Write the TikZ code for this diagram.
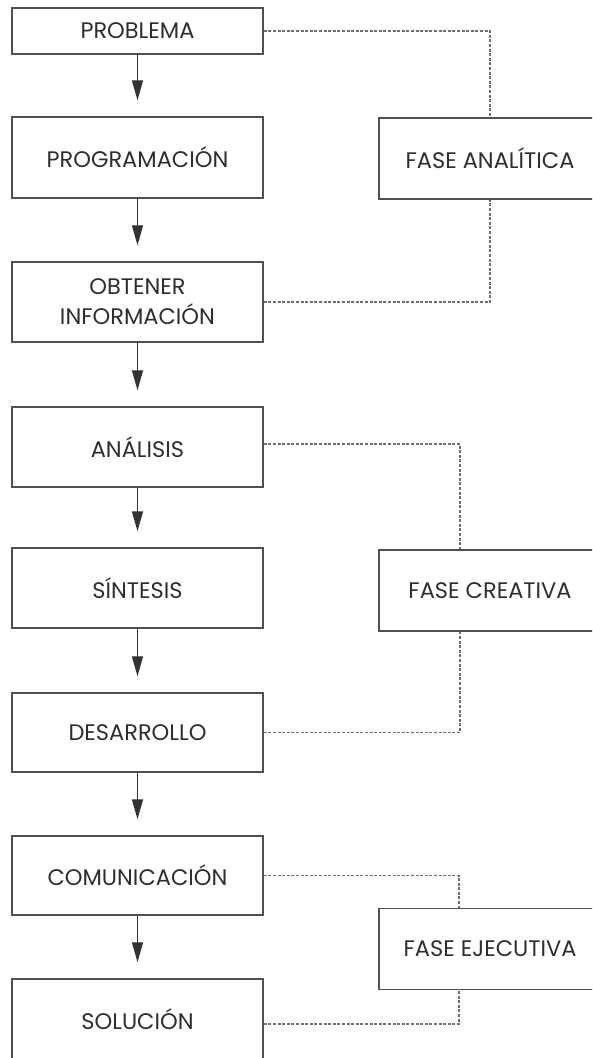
\documentclass[tikz,border=0pt]{standalone}
\usepackage{fontspec}
\setmainfont{Poppins}
\usetikzlibrary{arrows.meta}
\definecolor{boxline}{HTML}{505050}
\definecolor{txt}{HTML}{2E2E2E}
\definecolor{dashc}{HTML}{707070}
\begin{document}
\begin{tikzpicture}[x=1pt,y=-1pt,
  stepbox/.style={draw=boxline, line width=1.4pt, minimum width=251pt, inner sep=0pt,
    text=txt, font=\fontsize{22.5}{30}\selectfont, align=center},
  fasebox/.style={draw=boxline, line width=1.4pt, minimum width=222pt, minimum height=81pt,
    inner sep=0pt, text=txt, font=\fontsize{22.5}{30}\selectfont},
  flow/.style={draw=black!80, line width=1.3pt, -{Triangle[length=20pt,width=11pt]}, shorten >=16pt},
  link/.style={draw=dashc, line width=1.1pt, dash pattern=on 3pt off 1.6pt}]
\useasboundingbox (0,0) rectangle (592,1058);
\clip (0,0) rectangle (592,1058);
\node[stepbox, minimum height=46pt] (prob) at (137.5,31) {PROBLEMA};
\node[stepbox, minimum height=81pt] (prog) at (137.5,157.5) {PROGRAMACIÓN};
\node[stepbox, minimum height=80pt] (obt) at (137.5,302) {OBTENER\\INFORMACIÓN};
\node[stepbox, minimum height=80pt] (anal) at (137.5,447) {ANÁLISIS};
\node[stepbox, minimum height=80pt] (sint) at (137.5,588) {SÍNTESIS};
\node[stepbox, minimum height=79pt] (des) at (137.5,732.5) {DESARROLLO};
\node[stepbox, minimum height=79pt] (com) at (137.5,875.5) {COMUNICACIÓN};
\node[stepbox, minimum height=80pt] (sol) at (137.5,1019) {SOLUCIÓN};
\node[fasebox] (fa) at (490,158.5) {FASE ANALÍTICA};
\node[fasebox] (fc) at (490,590.5) {FASE CREATIVA};
\node[fasebox] (fe) at (490,949) {FASE EJECUTIVA};
\draw[flow] (prob) -- (prog);
\draw[flow] (prog) -- (obt);
\draw[flow] (obt) -- (anal);
\draw[flow] (anal) -- (sint);
\draw[flow] (sint) -- (des);
\draw[flow] (des) -- (com);
\draw[flow] (com) -- (sol);
\draw[link] (prob.east) -| (fa.north);
\draw[link] (obt.east) -| (fa.south);
\draw[link] ([yshift=3pt]anal.east) -| ([xshift=-30pt]fc.north);
\draw[link] (des.east) -| ([xshift=-30pt]fc.south);
\draw[link] (com.east) -| ([xshift=-31pt]fe.north);
\draw[link] ([yshift=-5pt]sol.east) -| ([xshift=-31pt]fe.south);
\end{tikzpicture}
\end{document}
